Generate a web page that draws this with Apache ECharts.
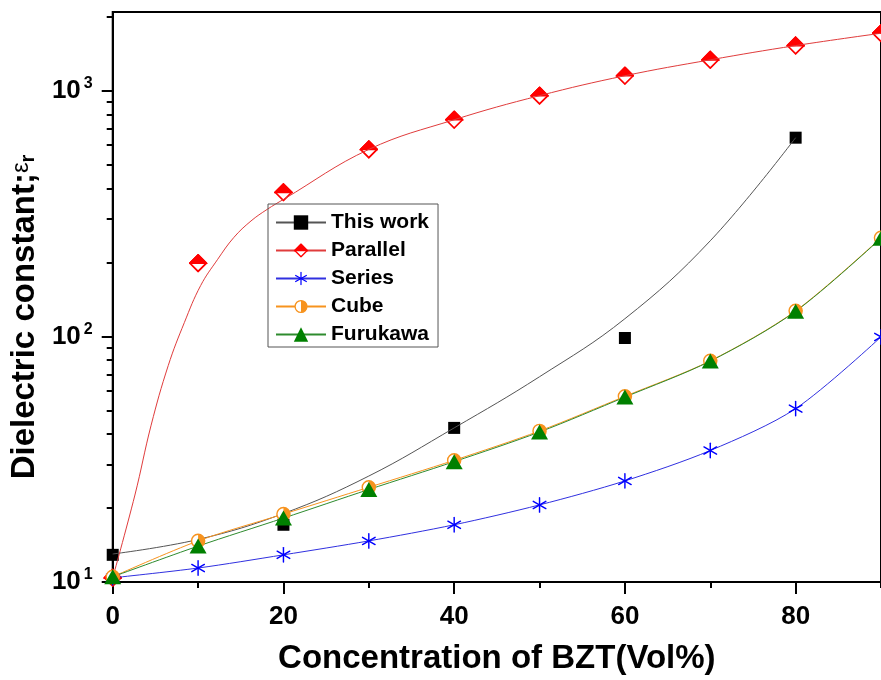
<!DOCTYPE html>
<html>
<head>
<meta charset="utf-8">
<script src="https://cdn.jsdelivr.net/npm/echarts@6/dist/echarts.min.js"></script>
<style>
  html, body { margin: 0; padding: 0; background: #fff; }
  #chart { width: 881px; height: 680px; }
</style>
</head>
<body>
<div id="chart"></div>
<script>
// BZT volume fraction (%) and dielectric constant values
const conc = [0, 10, 20, 30, 40, 50, 60, 70, 80, 90];

const thisWorkX = [0, 20, 40, 60, 80];
const thisWork = [12.9, 17.1, 42.4, 98.5, 644];
const thisWorkFitX = [0, 10, 20, 30, 40, 50, 60, 70, 80];
const thisWorkFit = [13.0, 14.9, 19.0, 27.0, 42.4, 68.5, 118, 245, 644];

const parallel = [10.4, 198.6, 386, 577, 762, 955, 1151, 1336, 1527, 1714];
const parallelFitX = [0, 2.6, 4.5, 6.5, 8.4, 10.3, 12.3, 14.2, 16.2, 18.1, 20, 30, 40, 50, 60, 70, 80, 90];
const parallelFit = [10.4, 22.6, 43.5, 76, 114, 161, 206, 253, 295, 329, 361, 577, 762, 955, 1151, 1336, 1527, 1714];

const seriesModel = [10.4, 11.4, 12.9, 14.7, 17.1, 20.6, 25.8, 34.3, 50.8, 99.5];
const cube = [10.5, 14.7, 18.9, 24.3, 31.3, 41.2, 57.0, 79.5, 127, 252];
const furukawa = [10.5, 14.0, 18.2, 23.8, 30.9, 40.8, 56.6, 79.3, 126.5, 251];

// axis ticks
const xMajor = [0, 20, 40, 60, 80];
const xMinor = [10, 30, 50, 70, 90];
const yMajor = [10, 100, 1000];
const yMinor = [20, 30, 40, 50, 60, 70, 80, 90, 200, 300, 400, 500, 600, 700, 800, 900, 2000];
const supDigit = { 10: '1', 100: '2', 1000: '3' };

const pairs = (xs, ys) => xs.map((x, i) => [x, ys[i]]);

const FONT = '"Liberation Sans", Arial, Helvetica, sans-serif';
const RED = '#ff0000', BLUE = '#0000ff', ORANGE = '#f7931e', GREEN = '#008000';

const svgSymbol = svg => 'image://data:image/svg+xml;charset=utf-8,' + encodeURIComponent(svg);

const diamondHalf = svgSymbol(
  "<svg xmlns='http://www.w3.org/2000/svg' width='40' height='40' viewBox='0 0 20 20'>" +
  "<path d='M10 1.3L18.7 10L10 18.7L1.3 10Z' fill='#fff' stroke='#f00' stroke-width='1.8'/>" +
  "<path d='M10 1.3L18.7 10L1.3 10Z' fill='#f00' stroke='#f00' stroke-width='1.8'/></svg>");
const circleHalf = svgSymbol(
  "<svg xmlns='http://www.w3.org/2000/svg' width='40' height='40' viewBox='0 0 20 20'>" +
  "<circle cx='10' cy='10' r='8.2' fill='#fff' stroke='#f7931e' stroke-width='1.8'/>" +
  "<path d='M10 1.8A8.2 8.2 0 0 1 10 18.2Z' fill='#f7931e'/></svg>");
const asterisk = svgSymbol(
  "<svg xmlns='http://www.w3.org/2000/svg' width='40' height='40' viewBox='0 0 20 20'>" +
  "<g stroke='#00f' stroke-width='1.7' stroke-linecap='round'>" +
  "<path d='M10 1.5V18.5'/><path d='M2.6 5.75L17.4 14.25'/><path d='M2.6 14.25L17.4 5.75'/>" +
  "</g></svg>");

const chart = echarts.init(document.getElementById('chart'), null, { renderer: 'canvas' });

const xBase = { type: 'value', min: 0, max: 90, gridIndex: 0, position: 'bottom', splitLine: { show: false } };
const yBase = { type: 'log', logBase: 10, min: 10, max: 2092, gridIndex: 0, position: 'left', splitLine: { show: false } };

chart.setOption({
  animation: false,
  backgroundColor: '#fff',
  grid: {
    left: 111, top: 12, width: 774, height: 572,
    show: true, borderColor: '#000', borderWidth: 2, backgroundColor: 'transparent'
  },
  legend: {
    orient: 'vertical',
    left: 268, top: 204,
    padding: [8, 9, 2, 7],
    itemWidth: 50, itemHeight: 18, itemGap: 7,
    borderColor: '#555', borderWidth: 1,
    selectedMode: false,
    textStyle: { fontFamily: FONT, fontSize: 21, fontWeight: 'bold', color: '#000' },
    data: ['This work', 'Parallel', 'Series', 'Cube', 'Furukawa']
  },
  xAxis: [
    Object.assign({}, xBase, {
      name: 'Concentration of BZT(Vol%)',
      nameLocation: 'middle', nameGap: 60,
      nameTextStyle: { fontFamily: FONT, fontSize: 33, fontWeight: 'bold', color: '#000' },
      axisLine: { show: true, lineStyle: { color: '#000', width: 2 } },
      axisTick: { show: true, customValues: xMajor, length: 12, lineStyle: { color: '#000', width: 2 } },
      axisLabel: { customValues: xMajor, margin: 22, fontFamily: FONT, fontSize: 26, fontWeight: 'bold', color: '#000' }
    }),
    Object.assign({}, xBase, {
      axisLine: { show: false },
      axisTick: { show: true, customValues: xMinor, length: 6, lineStyle: { color: '#000', width: 2 } },
      axisLabel: { show: false }
    })
  ],
  yAxis: [
    Object.assign({}, yBase, {
      name: '{t|Dielectric constant;}{e|ε}{s|r}',
      nameLocation: 'middle', nameGap: 44, nameRotate: 90,
      nameTextStyle: {
        fontFamily: FONT, color: '#000', padding: [0, 40, 0, 0],
        rich: {
          t: { fontFamily: FONT, fontSize: 33, fontWeight: 'bold', color: '#000', lineHeight: 33 },
          e: { fontFamily: FONT, fontSize: 24, fontWeight: 'normal', color: '#000', lineHeight: 24, padding: [0, 0, 6, 0] },
          s: { fontFamily: FONT, fontSize: 20, fontWeight: 'bold', color: '#000', lineHeight: 20, padding: [8, 0, 0, 0] }
        }
      },
      axisLine: { show: true, lineStyle: { color: '#000', width: 2 } },
      axisTick: { show: true, customValues: yMajor, length: 11, lineStyle: { color: '#000', width: 2 } },
      axisLabel: {
        customValues: yMajor, margin: 20,
        formatter: v => '{b|10}{p|' + (supDigit[Math.round(v)] || '') + '}',
        rich: {
          b: { fontFamily: FONT, fontSize: 26, fontWeight: 'bold', color: '#000', lineHeight: 26 },
          p: { fontFamily: FONT, fontSize: 16, fontWeight: 'bold', color: '#000', lineHeight: 16, padding: [0, 0, 14, 3] }
        }
      }
    }),
    Object.assign({}, yBase, {
      axisLine: { show: false },
      axisTick: { show: true, customValues: yMinor, length: 6, lineStyle: { color: '#000', width: 2 } },
      axisLabel: { show: false }
    })
  ],
  series: [
    {
      name: 'This work', type: 'line', smooth: 0.4, clip: false,
      data: pairs(thisWorkFitX, thisWorkFit),
      symbol: 'rect', symbolSize: 12, showSymbol: false,
      itemStyle: { color: '#000' },
      lineStyle: { color: '#555', width: 1 }
    },
    {
      name: 'This work', type: 'scatter', clip: false,
      data: pairs(thisWorkX, thisWork),
      symbol: 'rect', symbolSize: 12,
      itemStyle: { color: '#000', opacity: 1 }
    },
    {
      name: 'Parallel', type: 'line', smooth: 0.4, clip: false,
      data: pairs(parallelFitX, parallelFit),
      symbol: diamondHalf, symbolSize: 16, showSymbol: false,
      itemStyle: { color: RED },
      lineStyle: { color: '#e03c3c', width: 1 }
    },
    {
      name: 'Parallel', type: 'scatter', clip: false,
      data: pairs(conc, parallel),
      symbol: diamondHalf, symbolSize: 19,
      itemStyle: { color: RED, opacity: 1 }
    },
    {
      name: 'Series', type: 'line', smooth: 0.3, clip: false,
      data: pairs(conc, seriesModel),
      symbol: asterisk, symbolSize: 17, showSymbol: true,
      itemStyle: { color: BLUE },
      lineStyle: { color: '#3030e0', width: 1 }
    },
    {
      name: 'Cube', type: 'line', smooth: 0.3, clip: false,
      data: pairs(conc, cube),
      symbol: circleHalf, symbolSize: 16, showSymbol: true,
      itemStyle: { color: ORANGE },
      lineStyle: { color: ORANGE, width: 1 }
    },
    {
      name: 'Furukawa', type: 'line', smooth: 0.3, clip: false,
      data: pairs(conc, furukawa),
      symbol: 'triangle', symbolSize: [17, 15], showSymbol: true,
      itemStyle: { color: GREEN },
      lineStyle: { color: '#2e8b2e', width: 1 }
    }
  ]
});
</script>
</body>
</html>
